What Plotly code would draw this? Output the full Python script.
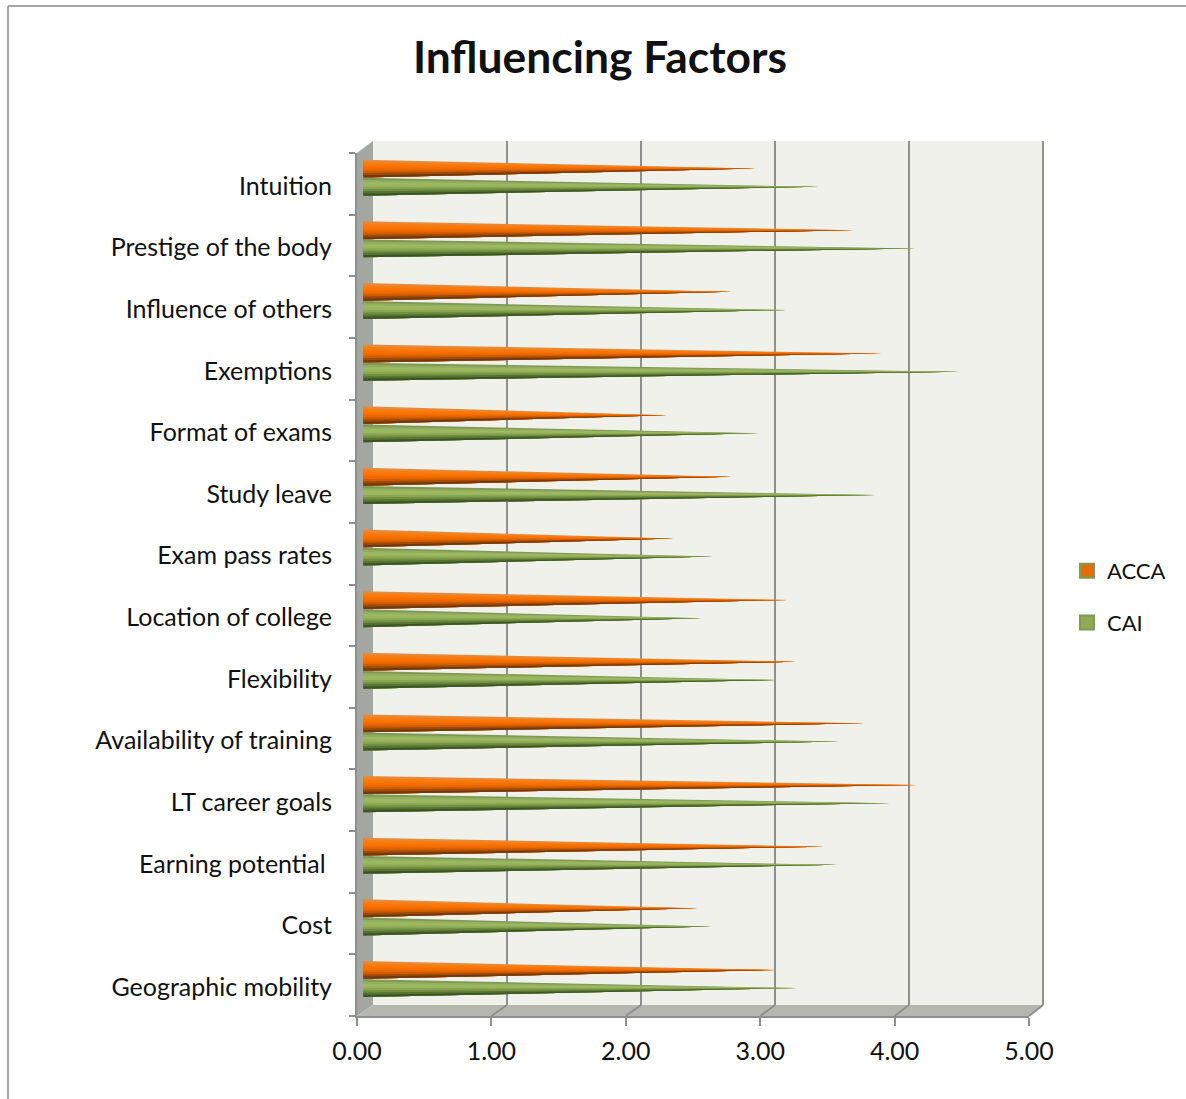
import math
import plotly.graph_objects as go

categories = ["Intuition", "Prestige of the body", "Influence of others", "Exemptions",
              "Format of exams", "Study leave", "Exam pass rates", "Location of college",
              "Flexibility", "Availability of training", "LT career goals",
              "Earning potential\u00a0", "Cost", "Geographic mobility"]
acca = [2.92, 3.65, 2.74, 3.86, 2.26, 2.74, 2.31, 3.16, 3.22, 3.73, 4.12, 3.43, 2.49, 3.07]
cai = [3.39, 4.11, 3.15, 4.44, 2.94, 3.81, 2.60, 2.52, 3.07, 3.54, 3.92, 3.53, 2.59, 3.23]
x_ticks = [0, 1, 2, 3, 4, 5]

W, H = 1186, 1099
FONT = "Lato"
TXT = "#111111"
GRID = "#8e908d"

orange_ramp = ["#e88a3a", "#f57f17", "#fb7606", "#f76f00", "#ea6800", "#d05c00", "#a04a06", "#6e3a12"]
green_ramp = ["#7f9a55", "#93ae5e", "#9dba62", "#99b55e", "#8aa652", "#738f42", "#567432", "#3d5526"]


def px(v):
    return v / W


def py(v):
    return 1 - v / H


def cone_bands(values, offset, n_bands, half=0.145, bulge=0.016):
    """Polygons of every cone: each band paints from its top edge to the cone's bottom."""
    bands = []
    for b in range(n_bands):
        a0 = -1 + 2 * b / n_bands
        xs, ys = [], []
        for i, v in enumerate(values):
            c = i + offset
            xs += [-bulge * math.sqrt(max(0, 1 - a0 * a0)), v, 0, None]
            ys += [c + half * a0, c, c + half, None]
        bands.append((xs, ys))
    return bands


def cone_rims(values, offset, half=0.14, bulge=0.014):
    """Green rim at the round base of every cone."""
    xs, ys = [], []
    for i in range(len(values)):
        c = i + offset
        for k in range(7):
            a = -1 + 2 * k / 6
            xs.append(-bulge * math.sqrt(1 - a * a))
            ys.append(c + half * a)
        xs.append(None)
        ys.append(None)
    return xs, ys


fig = go.Figure()

fig.add_trace(go.Scatter(x=[None], y=[None], xaxis="x", yaxis="y", showlegend=False, hoverinfo="skip"))
fig.add_trace(go.Scatter(x=[None], y=[None], xaxis="x2", yaxis="y2", showlegend=False, hoverinfo="skip"))

for vals, off, ramp in [(acca, -0.15, orange_ramp), (cai, 0.145, green_ramp)]:
    for (xs, ys), col in zip(cone_bands(vals, off, len(ramp)), ramp):
        fig.add_trace(go.Scatter(x=xs, y=ys, mode="lines", line=dict(width=0), fill="toself",
                                 fillcolor=col, xaxis="x3", yaxis="y3", showlegend=False,
                                 hoverinfo="skip"))
    rx, ry = cone_rims(vals, off)
    fig.add_trace(go.Scatter(x=rx, y=ry, mode="lines", line=dict(color="#7f9a55", width=1.5),
                             xaxis="x3", yaxis="y3", showlegend=False, hoverinfo="skip"))

for name, col, group in [("ACCA", "#e46c0a", "a"), ("CAI", "#8fa955", "b")]:
    fig.add_trace(go.Scatter(x=[None], y=[None], mode="markers", name=name, legendgroup=group,
                             marker=dict(symbol="square", size=14, color=col,
                                         line=dict(color="#7f9a55", width=2)),
                             xaxis="x", yaxis="y"))

shapes = []


def poly(points, fill):
    path = "M" + "L".join(f"{px(a)},{py(b)}" for a, b in points) + "Z"
    shapes.append(dict(type="path", xref="paper", yref="paper", path=path,
                       fillcolor=fill, line=dict(width=0), layer="below"))


poly([(373, 141), (1043, 141), (1043, 1005), (373, 1005)], "#eff1ea")
poly([(357, 153), (373, 141), (373, 1005), (357, 1016)], "#a4a6a2")
poly([(357, 1016), (373, 1005), (1043, 1005), (1029, 1016)], "#b5b7af")
for t in x_ticks[1:]:
    xf = 357 + t * 134.4
    xb = 373 + t * 134
    shapes.append(dict(type="line", xref="paper", yref="paper", x0=px(xf), y0=py(1016),
                       x1=px(xb), y1=py(1005), line=dict(color=GRID, width=2), layer="below"))
# right edge of the back wall: the last gridline, which plotly drops at the domain edge
shapes.append(dict(type="line", xref="x2 domain", yref="y2 domain", x0=1, y0=0, x1=1, y1=1,
                   line=dict(color=GRID, width=2), layer="below"))
shapes.append(dict(type="line", xref="paper", yref="paper", x0=px(8), y0=py(6), x1=px(8), y1=0,
                   line=dict(color="#8a8a8a", width=1.5), layer="below"))
shapes.append(dict(type="line", xref="paper", yref="paper", x0=px(8), y0=py(6), x1=1, y1=py(6),
                   line=dict(color="#8a8a8a", width=1.5), layer="below"))

fig.update_layout(
    width=W, height=H, autosize=False,
    margin=dict(l=0, r=0, t=0, b=0, autoexpand=False),
    paper_bgcolor="white", plot_bgcolor="rgba(0,0,0,0)",
    font=dict(family=FONT, size=25, color=TXT),
    shapes=shapes,
    title=dict(text="<b>Influencing Factors</b>", x=600 / W, xanchor="center", y=py(57), yanchor="middle",
               font=dict(family=FONT, size=44.4, color="#111111"), automargin=False),
    legend=dict(x=px(1067), xanchor="left", y=py(597), yanchor="middle", tracegroupgap=20,
                font=dict(family=FONT, size=22, color=TXT), bgcolor="rgba(0,0,0,0)", itemwidth=30),
    xaxis=dict(domain=[px(357), px(1029)], range=[0, 5], anchor="y", tickvals=x_ticks,
               ticktext=[f"{t:.2f}" for t in x_ticks], ticks="outside", ticklen=8, tickwidth=2,
               ticklabelstandoff=4,
               tickcolor=GRID, showline=True, linecolor=GRID, linewidth=2, showgrid=False,
               zeroline=False, tickfont=dict(family=FONT, size=25, color=TXT)),
    yaxis=dict(domain=[py(1016), py(153)], range=[13.5, -0.5], anchor="x",
               tickvals=list(range(len(categories))), ticktext=categories, ticks="",
               ticklabelstandoff=18, ticklabelshift=-2, showline=True, linecolor=GRID, linewidth=2,
               showgrid=False, zeroline=False, tickfont=dict(family=FONT, size=25, color=TXT),
               minor=dict(tickmode="array", tickvals=[i - 0.5 for i in range(len(categories) + 1)],
                          ticks="outside", ticklen=6, tickwidth=2, tickcolor=GRID, showgrid=False)),
    xaxis2=dict(domain=[px(373), px(1043)], range=[0, 5], anchor="y2", tickvals=x_ticks[1:],
                showgrid=True, gridcolor=GRID, gridwidth=2, showline=False, ticks="",
                showticklabels=False, zeroline=False),
    yaxis2=dict(domain=[py(1005), py(141)], range=[0, 1], anchor="x2", showgrid=False,
                showline=False, ticks="", showticklabels=False, zeroline=False),
    xaxis3=dict(domain=[px(363), px(1035)], range=[0, 5], anchor="y3", visible=False),
    yaxis3=dict(domain=[py(1010), py(147)], range=[13.5, -0.5], anchor="x3", visible=False),
)

fig.write_html("out.html", config=dict(displayModeBar=False),
               post_script="document.body.style.margin='0';document.body.style.overflow='hidden';")
